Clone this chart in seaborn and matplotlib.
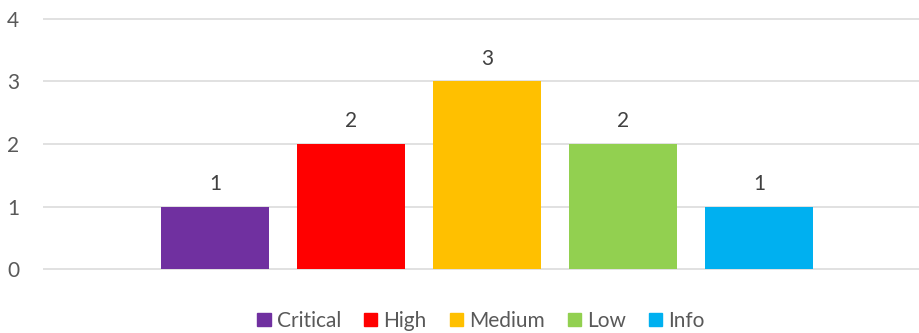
import matplotlib
matplotlib.use("Agg")
import matplotlib.pyplot as plt
import matplotlib.patches as mpatches
import pandas as pd
import seaborn as sns

# severity counts
severities = ["Critical", "High", "Medium", "Low", "Info"]
counts = [1, 2, 3, 2, 1]
colors = ["#7030A0", "#FF0000", "#FFC000", "#92D050", "#00B0F0"]
y_ticks = [0, 1, 2, 3, 4]

sns.set_theme(style="white")
plt.rcParams["font.family"] = ["Lato", "DejaVu Sans"]

df = pd.DataFrame({"severity": severities, "count": counts})

W, H = 920, 333
fig = plt.figure(figsize=(W / 100, H / 100), dpi=100)
# axes in pixels: x 43..920, y 16..272 (from top)
ax = fig.add_axes([43 / W, (H - 272) / H, 877 / W, 256 / H])

sns.barplot(data=df, x="severity", y="count", hue="severity",
            palette=colors, width=0.794, legend=False, ax=ax,
            saturation=1, linewidth=0, edgecolor="none")

px_per_unit = 62.7
ax.set_ylim(-2.7 / px_per_unit, 4 + 2.5 / px_per_unit)
ax.set_xlim(-1.265, 5.184)
ax.set_yticks(y_ticks)
ax.set_yticklabels([str(t) for t in y_ticks])
ax.set_xticks([])
ax.set_xlabel("")
ax.set_ylabel("")
ax.yaxis.grid(True, color="#D9D9D9", linewidth=1.1)
ax.set_axisbelow(True)
for s in ax.spines.values():
    s.set_visible(False)
ax.tick_params(axis="y", length=0, pad=17, labelsize=15, labelcolor="#595959")

for cont in ax.containers:
    ax.bar_label(cont, labels=[f"{int(v)}" for v in cont.datavalues],
                 padding=9, fontsize=15, color="#404040")

handles = [mpatches.Patch(color=c, label=s) for s, c in zip(severities, colors)]
fig.legend(handles=handles, loc="center", bbox_to_anchor=(481 / W, (H - 321) / H),
           ncol=5, frameon=False, fontsize=15, handlelength=0.63, handleheight=0.63,
           handletextpad=0.3, columnspacing=1.1, labelcolor="#595959",
           borderaxespad=0, borderpad=0)

fig.savefig("out.png", dpi=100)
